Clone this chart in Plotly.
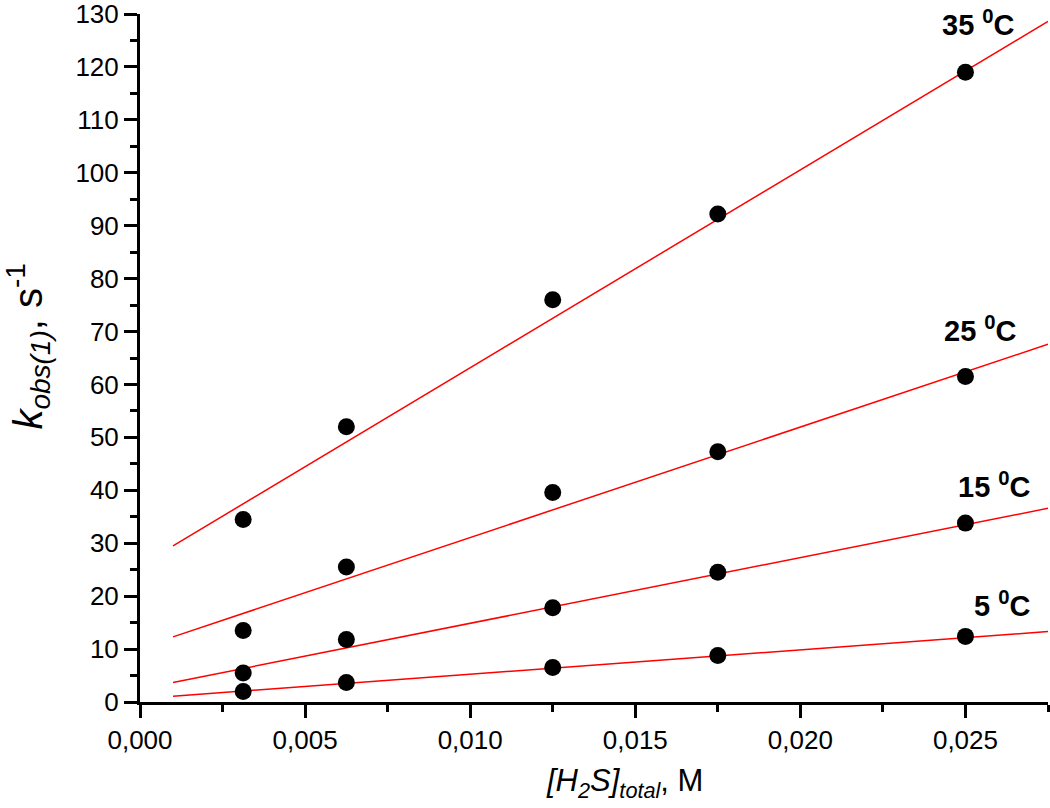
import plotly.graph_objects as go

# Data
conc = [0.003125, 0.00625, 0.0125, 0.0175, 0.025]
k_35 = [34.5, 52.0, 76.0, 92.2, 119.0]
k_25 = [13.5, 25.5, 39.6, 47.3, 61.5]
k_15 = [5.5, 11.8, 17.8, 24.5, 33.8]
k_5 = [2.0, 3.7, 6.5, 8.8, 12.4]

# Fitted straight lines (endpoints)
fit_x = [0.001, 0.0275]
fit_35 = [29.5, 128.6]
fit_25 = [12.3, 67.6]
fit_15 = [3.7, 36.6]
fit_5 = [1.1, 13.3]

labels = ["35", "25", "15", "5"]
label_x = [0.02538, 0.02545, 0.02588, 0.02612]
label_y = [128.3, 70.5, 41.0, 18.5]

series = [(k_35, fit_35), (k_25, fit_25), (k_15, fit_15), (k_5, fit_5)]

FONT = "Liberation Sans, Arial, sans-serif"

fig = go.Figure()
for pts, fit in series:
    fig.add_trace(go.Scatter(x=fit_x, y=fit, mode="lines",
                             line=dict(color="#ff0000", width=1.5),
                             showlegend=False, hoverinfo="skip"))
    fig.add_trace(go.Scatter(x=conc, y=pts, mode="markers",
                             marker=dict(color="black", size=17),
                             showlegend=False))

for lab, lx, ly in zip(labels, label_x, label_y):
    fig.add_annotation(x=lx, y=ly, xref="x", yref="y",
                       xanchor="center", yanchor="middle",
                       text=f"<b>{lab} <sup>0</sup>C</b>", showarrow=False,
                       font=dict(family=FONT, size=29, color="black"))

fig.add_annotation(x=-0.123, y=0.517, xref="paper", yref="paper",
                   xanchor="center", yanchor="middle",
                   text="<i>k</i><sub><i>obs(1)</i></sub>, s<sup>-1</sup>",
                   textangle=-90, showarrow=False,
                   font=dict(family=FONT, size=40, color="black"))
fig.add_annotation(x=0.534, y=-0.118, xref="paper", yref="paper",
                   xanchor="center", yanchor="middle",
                   text="<i>[H<sub>2</sub>S]<sub>total</sub></i>, M",
                   showarrow=False,
                   font=dict(family=FONT, size=31, color="black"))

axis_common = dict(showgrid=False, zeroline=False, showline=True,
                   linecolor="black", linewidth=3, ticks="outside",
                   ticklen=13, tickwidth=3, tickcolor="black",
                   tickfont=dict(family=FONT, size=26, color="black"),
                   mirror=False, automargin=False, ticklabeloverflow="allow")

fig.update_xaxes(range=[0, 0.0275], dtick=0.005, tick0=0, tickformat=".3f",
                 minor=dict(ticks="outside", ticklen=7, tickwidth=3,
                            tickcolor="black", dtick=0.0025, tick0=0),
                 **axis_common)
fig.update_yaxes(range=[0, 130], dtick=10, tick0=0,
                 minor=dict(ticks="outside", ticklen=7, tickwidth=3,
                            tickcolor="black", dtick=5, tick0=0),
                 **axis_common)

fig.update_layout(width=1050, height=808, separators=",.",
                  template="none",
                  plot_bgcolor="white", paper_bgcolor="white",
                  margin=dict(l=140, r=2, t=14, b=106),
                  font=dict(family=FONT, color="black"))

fig.write_html("out.html", config={"displayModeBar": False},
               post_script="document.body.style.margin='0';document.body.style.overflow='hidden';")
